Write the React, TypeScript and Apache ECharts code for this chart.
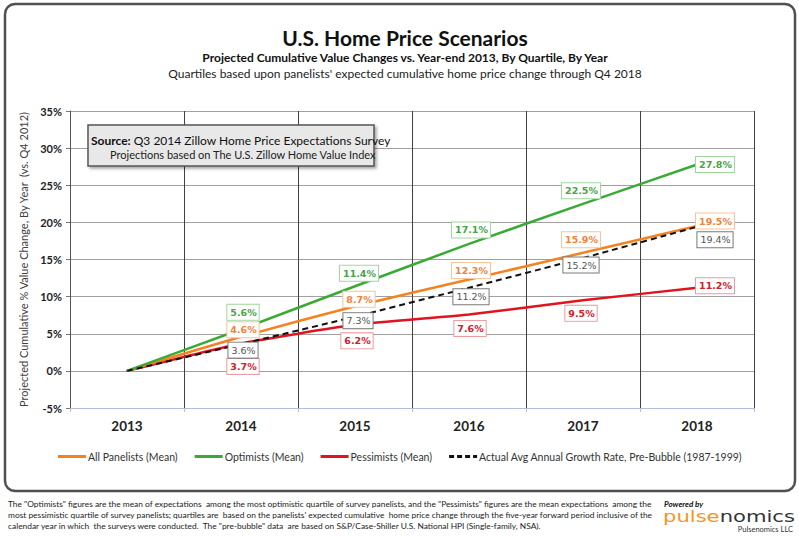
import React, { useEffect, useRef } from 'react';
import * as echarts from 'echarts';

const years = ['2013', '2014', '2015', '2016', '2017', '2018'];
const allPanelists = [0, 4.6, 8.7, 12.3, 15.9, 19.5];
const optimists = [0, 5.6, 11.4, 17.1, 22.5, 27.8];
const pessimists = [0, 3.7, 6.2, 7.6, 9.5, 11.2];
const preBubble = [0, 3.6, 7.3, 11.2, 15.2, 19.4];

// label nudges in px, per point (first point has no label)
const allOffsets = [null, [2, -7], [4, -7], [2, -9], [-2, -13], [18, -5]];
const optOffsets = [null, [2, -17], [4, -13], [2, -14], [-2, -13], [18, 0]];
const pessOffsets = [null, [2, 23], [2, 16], [1, 14], [-2, 13], [18, -2]];
const preOffsets = [null, [2, 6], [3, 4], [2, 9], [-2, 7], [18, 13]];

const NARROW = 'Lato, sans-serif';
const WIDE = "'DejaVu Sans', Verdana, sans-serif";

const footnote = [
  'The "Optimists" figures are the mean of expectations  among the most optimistic quartile of survey panelists, and the "Pessimists" figures are the mean expectations  among the',
  "most pessimistic quartile of survey panelists; quartiles are  based on the panelists' expected cumulative  home price change through the five-year forward period inclusive of the",
  'calendar year in which  the surveys were conducted.  The "pre-bubble" data  are based on S&P/Case-Shiller U.S. National HPI (Single-family, NSA).',
];

const App: React.FC = () => {
  const chartRef = useRef<HTMLDivElement>(null);

  useEffect(() => {
    document.body.style.margin = '0';
    const chart = echarts.init(chartRef.current, null, { renderer: 'svg' });

    const makeSeries = (
      name: string,
      values: number[],
      offsets: (number[] | null)[],
      color: string,
      textColor: string,
      boxColor: string,
      bold: boolean,
      dashed = false
    ) => ({
      name,
      type: 'line',
      smooth: 0.15,
      symbol: 'circle',
      symbolSize: 1,
      itemStyle: { color },
      lineStyle: { color, width: dashed ? 2 : 2.5, type: dashed ? [6, 4] : 'solid' },
      data: values.map((v, i) => ({
        value: v,
        label: offsets[i]
          ? { show: true, offset: offsets[i] }
          : { show: false },
      })),
      label: {
        position: 'inside',
        formatter: (p: any) => p.value.toFixed(1) + '%',
        color: textColor,
        fontFamily: WIDE,
        fontSize: 9.5,
        fontWeight: bold ? 'bold' : 'normal',
        backgroundColor: '#fff',
        borderColor: boxColor,
        borderWidth: 1,
        padding: [3, 2, 2, 3],
      },
    });

    const legendIcon = 'path://M0,0H28V3H0Z';
    const dashIcon = 'path://M0,0H5V3H0Z M8,0H13V3H8Z M16,0H21V3H16Z M24,0H28V3H24Z';

    // rounded frame corners, approximated by short chords
    const framePts: number[][] = [];
    const corner = (cx: number, cy: number, a0: number) => {
      for (let k = 0; k <= 4; k++) {
        const a = ((a0 + k * 22.5) * Math.PI) / 180;
        framePts.push([cx + 10 * Math.cos(a), cy + 10 * Math.sin(a)]);
      }
    };
    corner(15, 14, 180);
    corner(785, 14, 270);
    corner(785, 481, 0);
    corner(15, 481, 90);
    framePts.push(framePts[0]);

    const option = {
      animation: false,
      backgroundColor: '#fff',
      grid: { left: 70, right: 45, top: 111, bottom: 129 },
      xAxis: {
        type: 'category',
        data: years,
        boundaryGap: true,
        axisLine: { onZero: false, lineStyle: { color: '#b4bcd8', width: 1 } },
        axisTick: { show: true, length: 4, lineStyle: { color: '#b4bcd8' } },
        axisLabel: {
          margin: 11,
          fontFamily: NARROW,
          fontWeight: 'bold',
          fontSize: 13.5,
          color: '#222',
        },
        splitLine: { show: true, lineStyle: { color: '#404040', width: 1 } },
      },
      yAxis: {
        type: 'value',
        min: -5,
        max: 35,
        interval: 5,
        name: 'Projected Cumulative % Value Change, By Year  (vs. Q4 2012)',
        nameLocation: 'middle',
        nameGap: 35,
        nameTextStyle: { fontFamily: NARROW, fontSize: 11, color: '#404040' },
        axisLine: { show: true, lineStyle: { color: '#555', width: 1 } },
        axisTick: { show: true, length: 4, lineStyle: { color: '#777' } },
        axisLabel: {
          formatter: '{value}%',
          margin: 8,
          fontFamily: NARROW,
          fontWeight: 'bold',
          fontSize: 11,
          color: '#222',
        },
        splitLine: { show: true, lineStyle: { color: '#a0a0a0', width: 1 } },
      },
      legend: {
        left: 53,
        top: 446,
        itemWidth: 28,
        itemHeight: 3,
        itemGap: 17,
        itemStyle: { borderWidth: 0 },
        textStyle: { fontFamily: NARROW, fontSize: 10.5, color: '#333', padding: [0, 0, 0, -3] },
        data: [
          { name: 'All Panelists (Mean)', icon: legendIcon },
          { name: 'Optimists (Mean)', icon: legendIcon },
          { name: 'Pessimists (Mean)', icon: legendIcon },
          { name: 'Actual Avg Annual Growth Rate, Pre-Bubble (1987-1999)', icon: dashIcon },
        ],
      },
      series: [
        makeSeries('Pessimists (Mean)', pessimists, pessOffsets, '#e0141e', '#d0202a', '#ef9a9e', true),
        makeSeries('All Panelists (Mean)', allPanelists, allOffsets, '#f58220', '#f0823a', '#f8c49a', true),
        makeSeries('Optimists (Mean)', optimists, optOffsets, '#3aaa35', '#47a447', '#a3d69e', true),
        makeSeries(
          'Actual Avg Annual Growth Rate, Pre-Bubble (1987-1999)',
          preBubble,
          preOffsets,
          '#111',
          '#555',
          '#7a7a7a',
          false,
          true
        ),
      ],
      graphic: [
        {
          type: 'polyline',
          z: 20,
          silent: true,
          shape: { points: framePts },
          style: { fill: null, stroke: '#505050', lineWidth: 2.5 },
        },
        {
          type: 'text',
          x: 405,
          y: 37,
          style: {
            text: 'U.S. Home Price Scenarios',
            align: 'center',
            verticalAlign: 'middle',
            fontFamily: NARROW,
            fontWeight: 'bold',
            fontSize: 21,
            fill: '#111',
          },
        },
        {
          type: 'text',
          x: 405,
          y: 57,
          style: {
            text: 'Projected Cumulative Value Changes vs. Year-end 2013, By Quartile, By Year',
            align: 'center',
            verticalAlign: 'middle',
            fontFamily: NARROW,
            fontWeight: 'bold',
            fontSize: 12,
            fill: '#111',
          },
        },
        {
          type: 'text',
          x: 405,
          y: 73,
          style: {
            text: "Quartiles based upon panelists' expected cumulative home price change through Q4 2018",
            align: 'center',
            verticalAlign: 'middle',
            fontFamily: NARROW,
            fontSize: 12,
            fill: '#222',
          },
        },
        {
          type: 'rect',
          z: 10,
          shape: { x: 88, y: 125, width: 286, height: 41 },
          style: {
            fill: '#e8e8e8',
            stroke: '#555',
            lineWidth: 1.5,
            shadowBlur: 3,
            shadowOffsetX: 2,
            shadowOffsetY: 2,
            shadowColor: 'rgba(0,0,0,0.35)',
          },
        },
        {
          type: 'text',
          z: 11,
          x: 91,
          y: 140,
          style: {
            text: '{b|Source:} Q3 2014 Zillow Home Price Expectations Survey',
            verticalAlign: 'middle',
            fontFamily: NARROW,
            fontSize: 12,
            fill: '#111',
            rich: { b: { fontFamily: NARROW, fontSize: 12, fontWeight: 'bold', fill: '#111' } },
          },
        },
        {
          type: 'text',
          z: 11,
          x: 110,
          y: 154,
          style: {
            text: 'Projections based on The U.S. Zillow Home Value Index',
            verticalAlign: 'middle',
            fontFamily: NARROW,
            fontSize: 11,
            fill: '#222',
          },
        },
        ...footnote.map((line, i) => ({
          type: 'text',
          x: 8,
          y: 504 + i * 11,
          style: {
            text: line,
            verticalAlign: 'middle',
            fontFamily: NARROW,
            fontSize: 8.4,
            fill: '#222',
          },
        })),
        {
          type: 'text',
          x: 664,
          y: 504,
          style: {
            text: 'Powered by',
            verticalAlign: 'middle',
            fontFamily: NARROW,
            fontSize: 8,
            lineHeight: 9,
            fontWeight: 'bold',
            fontStyle: 'italic',
            fill: '#111',
          },
        },
        {
          type: 'text',
          x: 663,
          y: 516,
          scaleX: 1.32,
          style: {
            text: '{o|pulse}{d|nomics}',
            verticalAlign: 'middle',
            rich: {
              o: { fontFamily: WIDE, fontSize: 16, lineHeight: 13, fill: '#f7941d' },
              d: { fontFamily: WIDE, fontSize: 16, lineHeight: 13, fill: '#333' },
            },
          },
        },
        {
          type: 'text',
          x: 793,
          y: 529,
          style: {
            text: 'Pulsenomics LLC',
            align: 'right',
            verticalAlign: 'middle',
            fontFamily: NARROW,
            fontSize: 7.5,
            lineHeight: 8,
            fill: '#333',
          },
        },
      ],
    };

    chart.setOption(option as any);
    return () => chart.dispose();
  }, []);

  return <div ref={chartRef} style={{ width: 799, height: 537 }} />;
};

export default App;
